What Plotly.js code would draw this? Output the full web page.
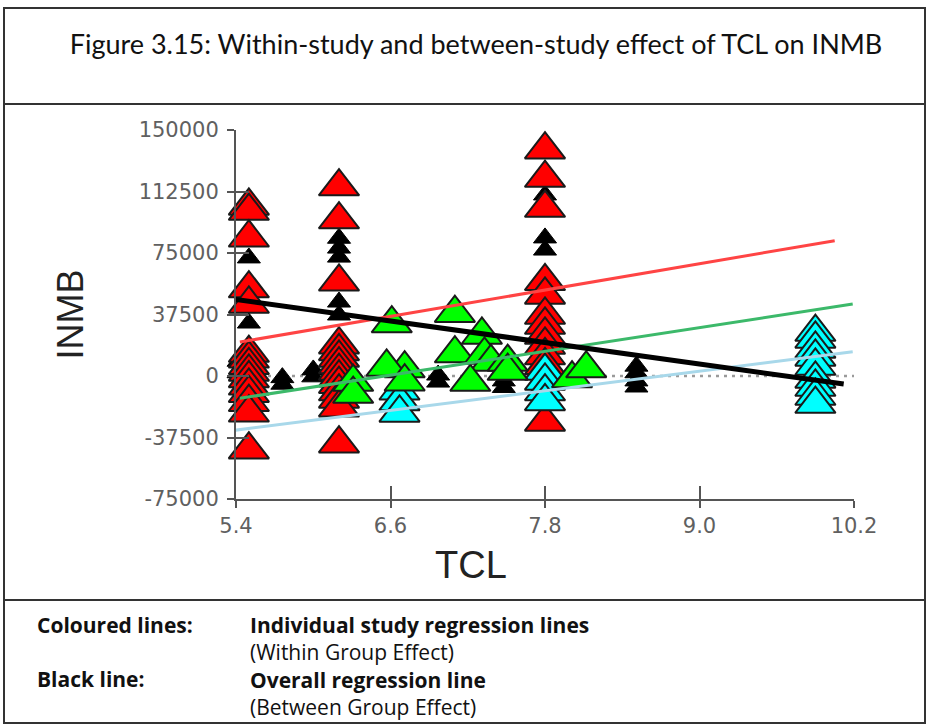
<!DOCTYPE html>
<html>
<head>
<meta charset="utf-8">
<script src="https://cdn.plot.ly/plotly-3.0.1.min.js"></script>
<style>
  html, body { margin: 0; padding: 0; background: #fff; }
  #chart { width: 929px; height: 727px; }
</style>
</head>
<body>
<div id="chart"></div>
<script>
// ---- Study data: TCL (x) and INMB (y) per study ----
const redTCL = [5.5, 5.5, 5.5, 5.5, 5.5, 5.5, 5.5, 5.5, 5.5, 5.5, 5.5, 5.5, 5.5, 5.5, 5.5,
                6.2, 6.2, 6.2, 6.2, 6.2, 6.2, 6.2, 6.2, 6.2, 6.2, 6.2, 6.2, 6.2, 6.2,
                7.8, 7.8, 7.8, 7.8, 7.8, 7.8, 7.8, 7.8, 7.8, 7.8, 7.8, 7.8];
const redINMB = [103700, 100600, 84300, 53300, 43900, 14000, 10500, 6500, 2500, -1500, -6000, -10500, -16000, -22400, -44900,
                 115500, 95400, 57400, 19100, 15000, 11000, 7000, 3000, -1000, -5000, -9500, -14000, -19300, -41300,
                 138000, 120700, 102400, 57700, 49400, 37200, 31100, 25000, 18900, 12500, 6500, -28000];

const blackTCL = [5.5, 5.5, 5.42, 5.42, 5.76, 5.76, 6.0, 6.0,
                  6.2, 6.2, 6.2, 6.2, 6.2, 6.97, 6.97, 7.48, 7.48,
                  7.8, 7.8, 7.8, 8.51, 8.51, 8.51, 8.51];
const blackINMB = [72000, 32300, 9000, 2000, -1000, -5000, 3700, -500,
                   84000, 78000, 72500, 45100, 37200, 600, -3700, -3000, -7000,
                   110400, 84200, 76800, 6000, 2000, -3000, -6700];

const greenTCL = [6.61, 7.10, 7.31, 7.10, 7.33, 7.38, 7.51, 7.51, 6.71, 6.57, 6.71, 6.31, 6.31, 7.22, 8.01, 8.12];
const greenINMB = [32000, 38300, 25000, 13700, 12800, 8500, 8500, 3000, 4500, 5500, -3500, -3700, -11000, -3700, -1600, 4500];

const cyanTCL = [6.67, 6.67, 6.67, 7.8, 7.8, 7.8, 7.8, 9.9, 9.9, 9.9, 9.9, 9.9, 9.9, 9.9, 9.9, 9.9];
const cyanINMB = [-9000, -15500, -22500, 3000, -3000, -9500, -15500,
                  26800, 22600, 16500, 11600, 6100, -1800, -6700, -12200, -17100];

// ---- Regression lines (end points) ----
const redFitTCL = [5.43, 10.05];
const redFitINMB = [20700, 82500];
const greenFitTCL = [5.43, 10.19];
const greenFitINMB = [-13600, 43900];
const cyanFitTCL = [5.35, 10.19];
const cyanFitINMB = [-33500, 14800];
const overallFitTCL = [5.37, 10.12];
const overallFitINMB = [46950, -4900];
const zeroTCL = [5.4, 10.2];
const zeroINMB = [0, 0];

// ---- Axes ----
const xTicks = [5.4, 6.6, 7.8, 9.0, 10.2];
const xTickText = ['5.4', '6.6', '7.8', '9.0', '10.2'];
const yTicks = [-75000, -37500, 0, 37500, 75000, 112500, 150000];
const yTickText = ['-75000', '-37500', '0', '37500', '75000', '112500', '150000'];

// ---- Key text under the chart ----
const keyLabels = ['Coloured lines:', 'Black line:'];
const keyMeaning = ['Individual study regression lines', 'Overall regression line'];
const keyEffect = ['(Within Group Effect)', '(Between Group Effect)'];

// plot area in page pixels
const M = { l: 236, r: 75, t: 130, b: 228 };
const W = 929, H = 727;
const PW = W - M.l - M.r, PH = H - M.t - M.b;
const px = p => (p - M.l) / PW;          // page x -> paper x
const py = p => (H - M.b - p) / PH;      // page y -> paper y

const tri = (fill, size, lineColor, lineWidth) => ({
  symbol: 'triangle-up', size: size, color: fill,
  line: { color: lineColor, width: lineWidth }
});

const traces = [
  { x: zeroTCL, y: zeroINMB, mode: 'lines', line: { color: '#9a9a9a', width: 2.5, dash: '3px,5px' }, hoverinfo: 'skip' },
  { x: blackTCL, y: blackINMB, mode: 'markers', marker: tri('#000', 20, '#000', 1), cliponaxis: false },
  { x: redTCL, y: redINMB, mode: 'markers', marker: tri('#ff0000', 35, '#1a1a1a', 2), cliponaxis: false },
  { x: cyanTCL, y: cyanINMB, mode: 'markers', marker: tri('#00ffff', 35, '#1a1a1a', 2), cliponaxis: false },
  { x: greenTCL, y: greenINMB, mode: 'markers', marker: tri('#00ff00', 35, '#1a1a1a', 2), cliponaxis: false },
  { x: cyanFitTCL, y: cyanFitINMB, mode: 'lines', line: { color: '#a8d8ea', width: 3 } },
  { x: greenFitTCL, y: greenFitINMB, mode: 'lines', line: { color: '#3cb96a', width: 3 } },
  { x: redFitTCL, y: redFitINMB, mode: 'lines', line: { color: '#ff4444', width: 3 } },
  { x: overallFitTCL, y: overallFitINMB, mode: 'lines', line: { color: '#000', width: 5 } },
  // carrier for the inner tick marks
  { x: [], y: [], xaxis: 'x2', yaxis: 'y2', mode: 'markers', hoverinfo: 'skip' }
];

const tickFont = { family: 'DejaVu Sans', size: 21, color: '#606060' };
const frame = { color: '#333', width: 2 };
const noteFont = { family: 'Open Sans', size: 21, color: '#111' };

const annotations = [
  // left column: line names
  { text: '<b>' + keyLabels[0] + '</b>', x: px(35), y: py(625) },
  { text: '<b>' + keyLabels[1] + '</b>', x: px(35), y: py(679) },
  // right column: what each line shows
  {
    text: '<b>' + keyMeaning[0] + '</b><br>' + keyEffect[0] + '<br><b>' + keyMeaning[1] + '</b><br>' + keyEffect[1],
    x: px(248), y: py(666), align: 'left'
  }
].map(a => Object.assign({
  xref: 'paper', yref: 'paper', xanchor: 'left', yanchor: 'middle',
  showarrow: false, font: noteFont
}, a));

// x-axis title, set left of the plot centre
annotations.push({
  text: 'TCL', xref: 'paper', yref: 'paper', x: px(471), y: py(565),
  xanchor: 'center', yanchor: 'middle', showarrow: false,
  font: { family: 'Liberation Sans', size: 38, color: '#222' }
});

const layout = {
  width: W, height: H,
  margin: M,
  paper_bgcolor: '#fff', plot_bgcolor: '#fff',
  showlegend: false,
  font: { family: 'Liberation Sans', color: '#222' },
  title: {
    text: 'Figure 3.15: Within-study and between-study effect of TCL on INMB',
    xref: 'container', yref: 'container',
    x: 476 / W, y: 1 - 45 / H, xanchor: 'center', yanchor: 'middle',
    font: { family: 'Lato', size: 27, color: '#111' }
  },
  xaxis: {
    range: [5.4, 10.2], tickvals: xTicks, ticktext: xTickText,
    showgrid: false, zeroline: false, showline: true, linecolor: '#555', linewidth: 2,
    ticks: 'outside', ticklen: 7, tickwidth: 2, tickcolor: '#555',
    tickfont: tickFont, ticklabelstandoff: 0
  },
  yaxis: {
    range: [-75000, 150000], tickvals: yTicks, ticktext: yTickText,
    showgrid: false, zeroline: false, showline: true, linecolor: '#555', linewidth: 2,
    ticks: 'outside', ticklen: 7, tickwidth: 2, tickcolor: '#555',
    tickfont: tickFont, ticklabelstandoff: 4,
    title: { text: 'INMB', font: { family: 'Liberation Sans', size: 36, color: '#222' }, standoff: 44 }
  },
  xaxis2: {
    overlaying: 'x', anchor: 'y2', range: [5.4, 10.2], tickvals: xTicks,
    showticklabels: false, showgrid: false, zeroline: false, showline: false,
    ticks: 'inside', ticklen: 13, tickwidth: 2, tickcolor: '#555'
  },
  yaxis2: {
    overlaying: 'y', anchor: 'x2', range: [-75000, 150000], tickvals: yTicks,
    showticklabels: false, showgrid: false, zeroline: false, showline: false,
    ticks: 'inside', ticklen: 13, tickwidth: 2, tickcolor: '#555'
  },
  shapes: [
    { type: 'rect', xref: 'paper', yref: 'paper', x0: px(4), x1: px(925), y0: py(8), y1: py(723), line: frame },
    { type: 'line', xref: 'paper', yref: 'paper', x0: px(4), x1: px(925), y0: py(104), y1: py(104), line: frame },
    { type: 'line', xref: 'paper', yref: 'paper', x0: px(4), x1: px(925), y0: py(600), y1: py(600), line: frame }
  ],
  annotations: annotations
};

Plotly.newPlot('chart', traces, layout, { staticPlot: true, displayModeBar: false });
</script>
</body>
</html>
